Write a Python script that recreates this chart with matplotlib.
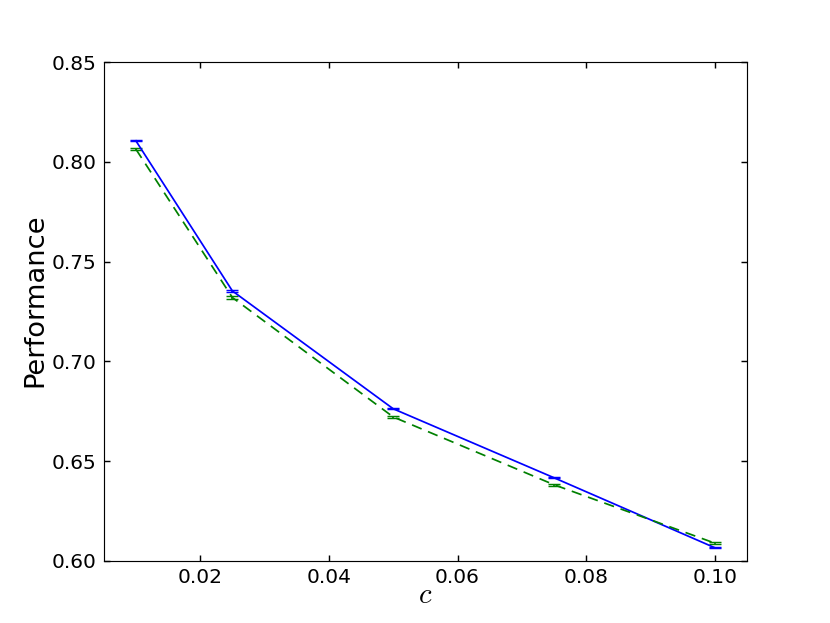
import matplotlib
matplotlib.use("Agg")
import matplotlib.pyplot as plt

c_values = [0.01, 0.025, 0.05, 0.075, 0.10]
perf_a = [0.8106, 0.7353, 0.6762, 0.6416, 0.6065]
err_a = [0.0003, 0.0003, 0.0003, 0.0003, 0.0003]
perf_b = [0.8064, 0.7320, 0.6721, 0.6381, 0.6088]
err_b = [0.0004, 0.0007, 0.0004, 0.0004, 0.0004]

xticks = [0.02, 0.04, 0.06, 0.08, 0.10]
yticks = [0.60, 0.65, 0.70, 0.75, 0.80, 0.85]

plt.rcParams['mathtext.fontset'] = 'cm'
plt.rcParams['xtick.direction'] = 'in'
plt.rcParams['ytick.direction'] = 'in'
plt.rcParams['xtick.top'] = True
plt.rcParams['ytick.right'] = True
plt.rcParams['xtick.major.size'] = 4
plt.rcParams['ytick.major.size'] = 4

fig = plt.figure(figsize=(8, 6.005), dpi=103.75)
ax = fig.add_subplot(111)
fig.subplots_adjust(left=0.125, right=0.9, bottom=0.1, top=0.9)

ax.errorbar(c_values, perf_a, yerr=err_a, color=(0, 0, 1), linestyle='-',
            linewidth=1.2, capsize=4, elinewidth=1.2)
ax.errorbar(c_values, perf_b, yerr=err_b, color=(0, 0.5, 0), linestyle='--',
            dashes=(6, 4), linewidth=1.2, capsize=4, elinewidth=1.2)

ax.set_xlim(0.005, 0.105)
ax.set_ylim(0.60, 0.85)
ax.set_xticks(xticks)
ax.set_xticklabels([f"{t:.2f}" for t in xticks], fontsize=14)
ax.set_yticks(yticks)
ax.set_yticklabels([f"{t:.2f}" for t in yticks], fontsize=14)
ax.tick_params(axis='both', pad=5, width=1)
ax.set_xlabel('$c$', fontsize=20, labelpad=-4)
ax.set_ylabel('Performance', fontsize=19, va='center')
ax.yaxis.set_label_coords(-0.107, 0.523)

fig.savefig('out.png', dpi=103.75)
